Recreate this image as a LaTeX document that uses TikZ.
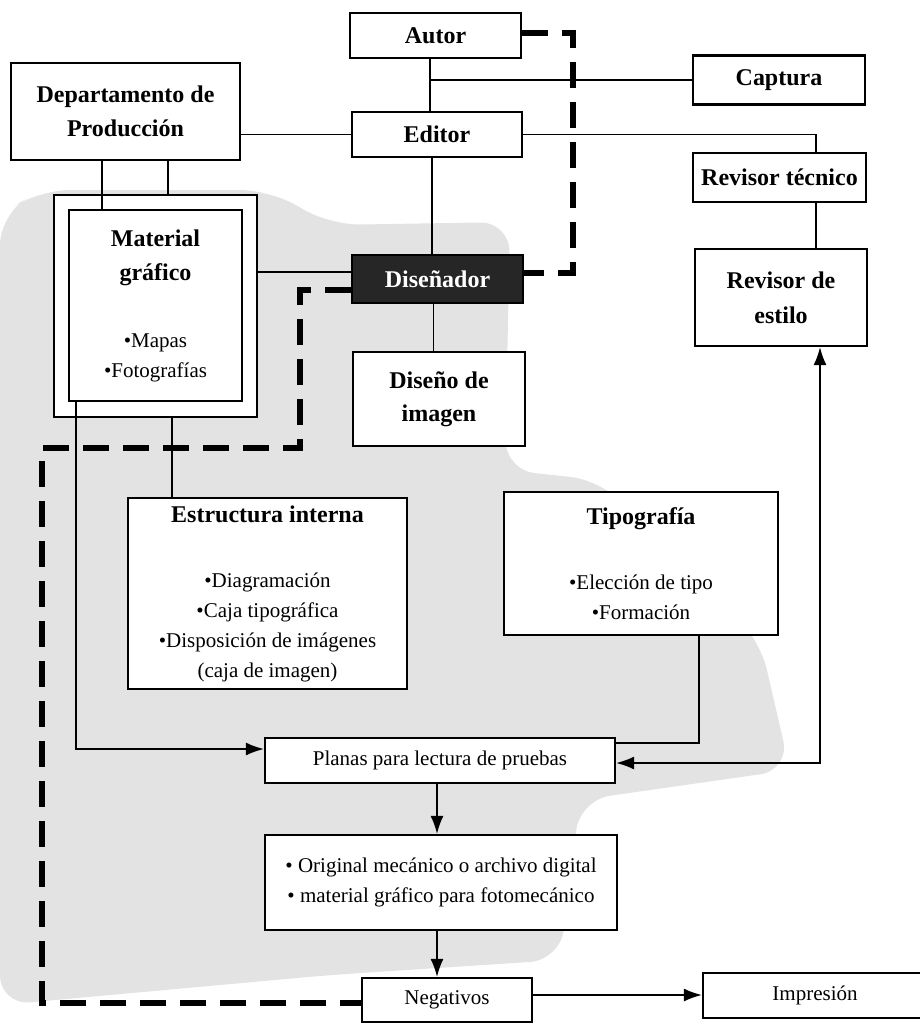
\documentclass[tikz,border=0pt]{standalone}
\usepackage{fontspec}
\setmainfont{Liberation Serif}
\usetikzlibrary{arrows.meta,calc}
\newcommand\tfont{\fontsize{24}{30}\selectfont\bfseries}
\newcommand\rfont{\fontsize{21}{30}\selectfont\mdseries}
\tikzset{
  box/.style={draw, line width=2.2pt, fill=white, align=center, inner sep=0pt, font=\tfont},
  sbox/.style={box, font=\rfont},
  conn/.style={line width=1.7pt},
  arr/.style={conn, -{Latex[length=18pt,width=13pt]}},
  arrboth/.style={conn, {Latex[length=18pt,width=13pt]}-{Latex[length=18pt,width=13pt]}},
  dashline/.style={line width=6pt, dash pattern=on 26pt off 14pt},
}
\begin{document}
\begin{tikzpicture}[x=1pt,y=-1pt]
\useasboundingbox (0,0) rectangle (919,1023);
\fill[white] (0,0) rectangle (919,1023);
% speckled grey background
\fill[black!11, rounded corners=30pt] (0,215) -- (40,190) -- (270,190) -- (330,225) -- (510,222) -- (505,470) -- (600,480) -- (760,640) -- (790,770) -- (580,800) -- (560,960) -- (330,975) -- (0,1005) -- cycle;

% nodes
\node[box, minimum width=171pt, minimum height=45pt] (autor) at (435.5,35.5) {Autor};
\node[box, minimum width=172pt, minimum height=49pt] (captura) at (779,80) {Captura};
\node[box, minimum width=170pt, minimum height=45pt] (editor) at (437,134.5) {Editor};
\node[box, minimum width=229pt, minimum height=97pt] (dept) at (125.5,111.5) {Departamento de\\[4pt]Producción};
\node[box, minimum width=203pt, minimum height=222pt] (matouter) at (155.5,306) {};
\node[box, minimum width=173pt, minimum height=191pt] (matinner) at (155.5,305.5) {\tfont Material\\[4pt]\tfont gráfico\\[37pt]\rfont •Mapas\\\rfont •Fotografías};
\node[box, minimum width=171pt, minimum height=48pt, fill=black!85, text=white] (disenador) at (437.5,279) {Diseñador};
\node[box, minimum width=172pt, minimum height=94pt] (disimg) at (439,399) {Diseño de\\[3pt]imagen};
\node[box, minimum width=173pt, minimum height=49pt] (revtec) at (779.5,177.5) {Revisor técnico};
\node[box, minimum width=172pt, minimum height=97pt] (revest) at (781,297.5) {Revisor de\\[5pt]estilo};
\node[box, minimum width=274pt, minimum height=143pt] (tipo) at (641,563.5) {\tfont Tipografía\\[35pt]\rfont •Elección de tipo\\\rfont •Formación};
\node[box, minimum width=279pt, minimum height=191pt] (estr) at (267.5,593.5) {\tfont Estructura interna\\[35pt]\rfont •Diagramación\\\rfont •Caja tipográfica\\\rfont •Disposición de imágenes\\\rfont (caja de imagen)};
\node[sbox, minimum width=350pt, minimum height=45pt] (planas) at (440,760.5) {Planas para lectura de pruebas};
\node[sbox, minimum width=352pt, minimum height=95pt] (orig) at (441,882.5) {• Original mecánico o archivo digital\\• material gráfico para fotomecánico};
\node[sbox, minimum width=170pt, minimum height=44pt] (neg) at (447,1000) {Negativos};
\node[sbox, minimum width=250pt, minimum height=45pt] (impr) at (828,995.5) {Impresión\hspace*{26pt}};

% helper coordinates
\coordinate (j1) at (430,80);
\coordinate (x102) at (102,0);
\coordinate (x168) at (168,0);
\coordinate (d1) at (573,0);
\coordinate (d2) at (300,448);
\coordinate (d3) at (42,448);

% solid connectors
\draw[conn] (autor.south -| j1) -- (editor.north -| j1);
\draw[conn] (j1) -- (j1 -| captura.west);
\draw[conn] (editor.west) -- (editor.west -| dept.east);
\draw[conn] (dept.south -| x102) -- (matinner.north -| x102);
\draw[conn] (dept.south -| x168) -- (matouter.north -| x168);
\draw[conn] ([yshift=7pt]disenador.west) -- ([yshift=7pt]disenador.west -| matouter.east);
\draw[conn] ([xshift=-5pt]editor.south) -- ([xshift=-5pt]editor.south |- disenador.north);
\draw[conn] ([xshift=-4pt]disenador.south) -- ([xshift=-4pt]disenador.south |- disimg.north);
\draw[conn] (editor.east) -| ([xshift=36.5pt]revtec.north);
\draw[conn] ([xshift=36.5pt]revtec.south) -- ([xshift=36.5pt]revtec.south |- revest.north);
\draw[arrboth] ([yshift=-2.5pt]planas.east) -| ([xshift=39pt]revest.south);
\draw[conn] ([xshift=58pt]tipo.south) |- ([yshift=17.5pt]planas.east);
\draw[arr] ([xshift=-79.5pt]matinner.south) |- ([yshift=11.5pt]planas.west);
\draw[conn] ([xshift=16.5pt]matouter.south) -- ([xshift=16.5pt]matouter.south |- estr.north);
\draw[arr] ([xshift=-3pt]planas.south) -- ([xshift=-3pt]planas.south |- orig.north);
\draw[arr] ([xshift=-4pt]orig.south) -- ([xshift=-4pt]orig.south |- neg.north);
\draw[arr] ([yshift=5pt]neg.east) -- ([yshift=5pt]neg.east -| impr.west);

% dashed connectors
\draw[dashline] ([yshift=2.5pt]autor.east) -| ([yshift=6pt]disenador.east -| d1) -- ([yshift=6pt]disenador.east);
\draw[dashline] ([yshift=-11pt]disenador.west) -| (d2) -- (d3) |- ([yshift=-3pt]neg.west);
\end{tikzpicture}
\end{document}
